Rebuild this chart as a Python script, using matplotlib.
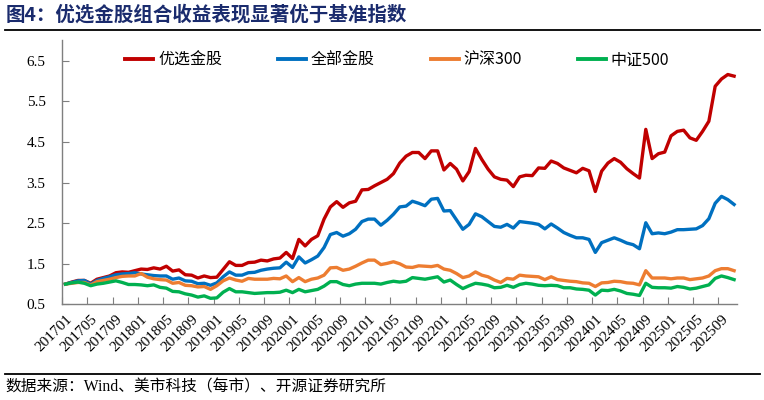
import matplotlib
matplotlib.use("Agg")
import matplotlib.pyplot as plt
from matplotlib.lines import Line2D

# ---------------- data ----------------
start_year, start_month = 2017, 1
n_months = 107  # 201701 .. 202511

red_vals = [1.00, 1.05, 1.09, 1.09, 1.02, 1.12, 1.16, 1.20, 1.28, 1.30,
            1.29, 1.33, 1.37, 1.36, 1.40, 1.37, 1.44, 1.32, 1.35, 1.23,
            1.22, 1.15, 1.20, 1.16, 1.17, 1.36, 1.55, 1.46, 1.46, 1.53,
            1.54, 1.59, 1.57, 1.62, 1.64, 1.78, 1.63, 2.10, 1.94, 2.10,
            2.19, 2.60, 2.90, 3.03, 2.89, 3.00, 3.04, 3.32, 3.33, 3.42,
            3.50, 3.58, 3.72, 3.98, 4.15, 4.24, 4.24, 4.09, 4.28, 4.28,
            3.81, 3.97, 3.83, 3.54, 3.77, 4.34, 4.07, 3.83, 3.64, 3.58,
            3.56, 3.40, 3.64, 3.68, 3.67, 3.86, 3.85, 4.03, 3.97, 3.86,
            3.80, 3.74, 3.85, 3.79, 3.28, 3.78, 3.98, 4.09, 4.00, 3.84,
            3.72, 3.61, 4.81, 4.09, 4.21, 4.25, 4.65, 4.76, 4.79, 4.60,
            4.54, 4.76, 5.01, 5.87, 6.05, 6.16, 6.12]

blue_vals = [1.00, 1.04, 1.08, 1.09, 1.00, 1.09, 1.14, 1.18, 1.23, 1.25,
             1.26, 1.28, 1.25, 1.23, 1.21, 1.20, 1.20, 1.12, 1.15, 1.08,
             1.07, 1.01, 1.02, 0.97, 1.03, 1.18, 1.30, 1.22, 1.22, 1.28,
             1.29, 1.34, 1.37, 1.39, 1.40, 1.54, 1.41, 1.67, 1.52, 1.60,
             1.69, 1.90, 2.22, 2.27, 2.18, 2.24, 2.35, 2.54, 2.60, 2.60,
             2.45, 2.57, 2.72, 2.90, 2.92, 3.04, 2.99, 2.93, 3.09, 3.11,
             2.80, 2.81, 2.58, 2.35, 2.47, 2.73, 2.66, 2.54, 2.42, 2.40,
             2.47, 2.38, 2.54, 2.52, 2.50, 2.47, 2.36, 2.48, 2.38, 2.27,
             2.20, 2.14, 2.14, 2.10, 1.78, 2.02, 2.08, 2.14, 2.08, 2.01,
             1.97, 1.87, 2.51, 2.24, 2.26, 2.24, 2.28, 2.34, 2.34, 2.35,
             2.36, 2.44, 2.61, 2.99, 3.16, 3.08, 2.96]

orange_vals = [1.00, 1.02, 1.04, 1.04, 0.98, 1.06, 1.09, 1.12, 1.16, 1.19,
               1.20, 1.20, 1.26, 1.17, 1.13, 1.11, 1.10, 1.02, 1.04, 0.97,
               0.96, 0.93, 0.94, 0.87, 0.96, 1.08, 1.15, 1.10, 1.07, 1.14,
               1.12, 1.12, 1.12, 1.14, 1.13, 1.20, 1.06, 1.16, 1.06, 1.12,
               1.15, 1.22, 1.40, 1.41, 1.34, 1.37, 1.44, 1.52, 1.59, 1.59,
               1.48, 1.51, 1.55, 1.50, 1.42, 1.41, 1.45, 1.44, 1.43, 1.46,
               1.37, 1.34, 1.26, 1.16, 1.20, 1.30, 1.22, 1.18, 1.10, 1.04,
               1.14, 1.12, 1.22, 1.20, 1.19, 1.18, 1.11, 1.18, 1.11, 1.09,
               1.07, 1.06, 1.03, 1.02, 0.94, 1.03, 1.04, 1.07, 1.06, 1.03,
               1.02, 0.98, 1.33, 1.15, 1.15, 1.15, 1.13, 1.15, 1.15, 1.11,
               1.13, 1.15, 1.20, 1.33, 1.38, 1.38, 1.33]

green_vals = [1.00, 1.03, 1.05, 1.02, 0.96, 1.00, 1.02, 1.05, 1.08, 1.04,
              0.99, 0.99, 0.98, 0.96, 0.98, 0.92, 0.90, 0.82, 0.81, 0.76,
              0.73, 0.68, 0.71, 0.65, 0.66, 0.80, 0.89, 0.81, 0.81, 0.79,
              0.77, 0.78, 0.79, 0.79, 0.80, 0.85, 0.79, 0.87, 0.81, 0.84,
              0.87, 0.95, 1.06, 1.06, 0.99, 0.96, 1.00, 1.02, 1.02, 1.02,
              1.00, 1.04, 1.07, 1.05, 1.07, 1.16, 1.14, 1.12, 1.15, 1.18,
              1.05, 1.10, 0.99, 0.89, 0.96, 1.02, 1.00, 0.97, 0.91, 0.92,
              0.97, 0.92, 0.99, 1.02, 1.00, 0.97, 0.96, 0.97, 0.96, 0.91,
              0.91, 0.88, 0.87, 0.85, 0.73, 0.85, 0.84, 0.87, 0.83, 0.77,
              0.75, 0.72, 1.02, 0.92, 0.91, 0.91, 0.90, 0.94, 0.92, 0.88,
              0.90, 0.94, 0.98, 1.14, 1.20, 1.16, 1.11]

series_names = ["优选金股", "全部金股", "沪深300", "中证500"]
series_colors = ["#C00000", "#0070C0", "#ED7D31", "#00B050"]
y_ticks = [0.5, 1.5, 2.5, 3.5, 4.5, 5.5, 6.5]

months = []
for k in range(n_months):
    y = start_year + (start_month - 1 + k) // 12
    m = (start_month - 1 + k) % 12 + 1
    months.append(f"{y}{m:02d}")

title_text = "图4：优选金股组合收益表现显著优于基准指数"
source_text = "数据来源：Wind、美市科技（每市）、开源证券研究所"

# ---------------- figure ----------------
cjk = ["Noto Sans CJK SC", "DejaVu Sans"]
serif = ["Liberation Serif", "Noto Sans CJK SC"]

fig = plt.figure(figsize=(7.64, 4.0), dpi=100)
ax = fig.add_axes([0.0815, 0.239, 0.8835, 0.660])

x = list(range(n_months))
all_vals = [red_vals, blue_vals, orange_vals, green_vals]
for vals, name, col in zip(all_vals, series_names, series_colors):
    ax.plot(x, vals, color=col, lw=2.4, solid_joinstyle="round", label=name)

ax.set_xlim(-0.5, n_months - 0.5)
ax.set_ylim(0.5, 7.0)

for s in ["top", "right"]:
    ax.spines[s].set_visible(False)
for s in ["left", "bottom"]:
    ax.spines[s].set_color("#7F7F7F")
    ax.spines[s].set_linewidth(1.0)

ax.set_yticks(y_ticks)
ax.set_yticklabels([f"{v:.1f}" for v in y_ticks], fontfamily=serif, fontsize=11)
ax.tick_params(axis="y", direction="in", length=5, color="#7F7F7F", pad=12)

lab_idx = list(range(0, n_months, 4))
ax.set_xticks([i - 0.5 for i in lab_idx])
ax.set_xticklabels([])
ax.tick_params(axis="x", which="major", direction="in", length=5, color="#7F7F7F")
ax.set_xticks(lab_idx, minor=True)
ax.set_xticklabels([months[i] for i in lab_idx], minor=True, rotation=45,
                   ha="right", rotation_mode="anchor", fontfamily=serif, fontsize=11)
ax.tick_params(axis="x", which="minor", length=0, pad=6)

handles = [Line2D([0], [0], color=c, lw=2.8) for c in series_colors]
leg = ax.legend(handles, series_names, loc="center", bbox_to_anchor=(0.496, 0.926),
                ncol=4, frameon=False, handlelength=1.75, handletextpad=0.3,
                columnspacing=3.5, prop={"family": cjk, "size": 11.5})

fig.text(0.007, 0.962, title_text, fontfamily=cjk, fontsize=14, fontweight="bold",
         color="#1A2B6D", va="center", ha="left")
fig.add_artist(Line2D([0.006, 0.995], [0.925, 0.925], color="black", lw=1.3,
                      transform=fig.transFigure))
fig.add_artist(Line2D([0.006, 0.995], [0.065, 0.065], color="black", lw=1.3,
                      transform=fig.transFigure))
fig.text(0.007, 0.032, source_text, fontfamily=serif, fontsize=11.3,
         color="black", va="center", ha="left")

fig.savefig("out.png", dpi=100)
